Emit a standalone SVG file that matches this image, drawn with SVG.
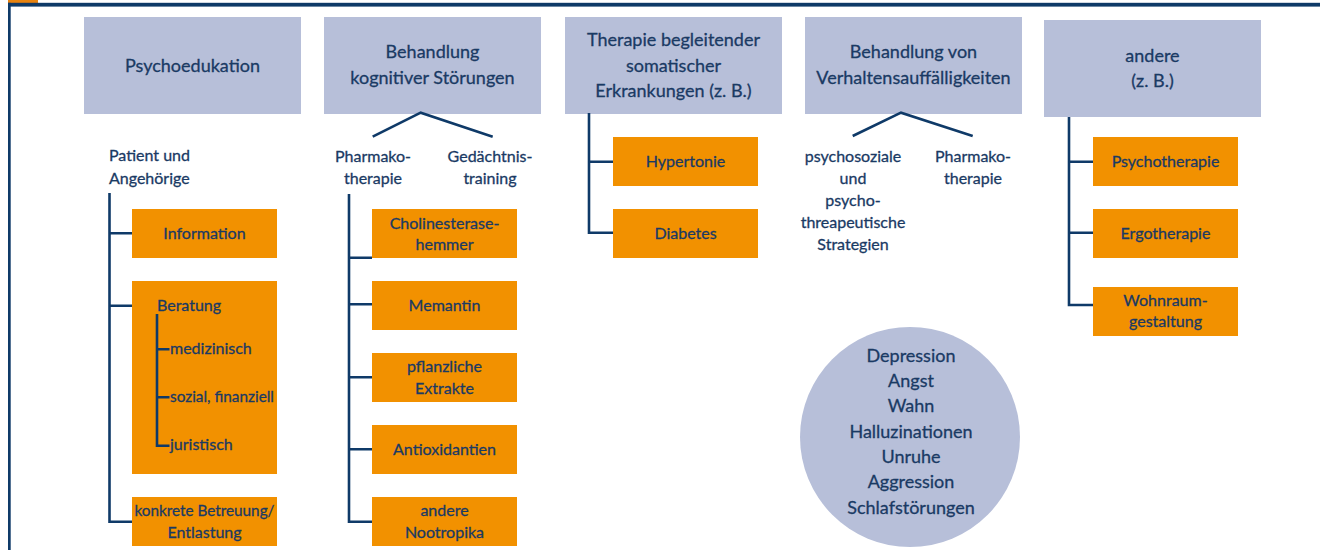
<svg xmlns="http://www.w3.org/2000/svg" width="1320" height="550" viewBox="0 0 1320 550">
<style>
.hd{fill:#b7bfd9}
.ob{fill:#f29100}
.t{font-family:Lato,"Open Sans",sans-serif;fill:#1a3a64;stroke:#1a3a64;stroke-width:0.3;text-anchor:middle}
.h{font-size:18px}
.b{font-size:16px}
.l{text-anchor:start}
.ln{stroke:#0f3a68;stroke-width:2.6;fill:none}
</style>
<rect x="0" y="0" width="1320" height="550" fill="#ffffff"/>
<g id="frame">
<rect x="8" y="0" width="30" height="3" fill="#e8830f"/>
<rect x="8" y="2.8" width="1312" height="3.8" fill="#0f3a68"/>
<rect x="8" y="2.8" width="2.7" height="548" fill="#0f3a68"/>
</g>
<g id="h1"><rect class="hd" x="84" y="17" width="217" height="97"/><text class="t h" x="192.5" y="72">Psychoedukation</text></g>
<g id="h2"><rect class="hd" x="324" y="17" width="217" height="97"/><text class="t h" x="432.5" y="58">Behandlung</text><text class="t h" x="432.5" y="84">kognitiver Störungen</text></g>
<g id="h3"><rect class="hd" x="565" y="17" width="217" height="97"/><text class="t h" x="673.5" y="46">Therapie begleitender</text><text class="t h" x="673.5" y="72">somatischer</text><text class="t h" x="673.5" y="97">Erkrankungen (z. B.)</text></g>
<g id="h4"><rect class="hd" x="805" y="17" width="217" height="97"/><text class="t h" x="913.5" y="58">Behandlung von</text><text class="t h" x="913.5" y="84">Verhaltensauffälligkeiten</text></g>
<g id="h5"><rect class="hd" x="1044" y="20" width="217" height="97"/><text class="t h" x="1152.5" y="62">andere</text><text class="t h" x="1152.5" y="87">(z. B.)</text></g>
<g id="patient"><text class="t b l" x="109" y="161">Patient und</text><text class="t b l" x="109" y="184">Angehörige</text></g>
<g id="information"><rect class="ob" x="132" y="209" width="145" height="49"/><text class="t b" x="204.5" y="239">Information</text></g>
<g id="beratung"><rect class="ob" x="132" y="281" width="145" height="193"/><text class="t b l" x="157" y="311">Beratung</text></g>
<g id="medizinisch"><text class="t b l" x="170" y="354">medizinisch</text></g>
<g id="sozial"><text class="t b l" x="170" y="402" textLength="104" lengthAdjust="spacingAndGlyphs">sozial, finanziell</text></g>
<g id="juristisch"><text class="t b l" x="170" y="450">juristisch</text></g>
<g id="konkrete"><rect class="ob" x="132" y="497" width="145" height="49"/><text class="t b" x="204.5" y="516" textLength="140" lengthAdjust="spacingAndGlyphs">konkrete Betreuung/</text><text class="t b" x="204.5" y="538">Entlastung</text></g>
<g id="pharmako1"><text class="t b" x="373" y="162">Pharmako-</text><text class="t b" x="373" y="184">therapie</text></g>
<g id="gedaechtnis"><text class="t b" x="490" y="162">Gedächtnis-</text><text class="t b" x="490" y="184">training</text></g>
<g id="cholin"><rect class="ob" x="372" y="209" width="145" height="49"/><text class="t b" x="444.5" y="229">Cholinesterase-</text><text class="t b" x="444.5" y="250">hemmer</text></g>
<g id="memantin"><rect class="ob" x="372" y="281" width="145" height="49"/><text class="t b" x="444.5" y="311">Memantin</text></g>
<g id="pflanz"><rect class="ob" x="372" y="353" width="145" height="49"/><text class="t b" x="444.5" y="372">pflanzliche</text><text class="t b" x="444.5" y="394">Extrakte</text></g>
<g id="antiox"><rect class="ob" x="372" y="425" width="145" height="49"/><text class="t b" x="444.5" y="455">Antioxidantien</text></g>
<g id="nootrop"><rect class="ob" x="372" y="497" width="145" height="49"/><text class="t b" x="444.5" y="516">andere</text><text class="t b" x="444.5" y="538">Nootropika</text></g>
<g id="hypertonie"><rect class="ob" x="613" y="137" width="145" height="49"/><text class="t b" x="685.5" y="167">Hypertonie</text></g>
<g id="diabetes"><rect class="ob" x="613" y="209" width="145" height="49"/><text class="t b" x="685.5" y="239">Diabetes</text></g>
<g id="psychosozial"><text class="t b" x="853" y="162">psychosoziale</text><text class="t b" x="853" y="184">und</text><text class="t b" x="853" y="206">psycho-</text><text class="t b" x="853" y="228">threapeutische</text><text class="t b" x="853" y="250">Strategien</text></g>
<g id="pharmako2"><text class="t b" x="973" y="162">Pharmako-</text><text class="t b" x="973" y="184">therapie</text></g>
<g id="psychotherapie"><rect class="ob" x="1093" y="137" width="145" height="49"/><text class="t b" x="1165.5" y="167">Psychotherapie</text></g>
<g id="ergo"><rect class="ob" x="1093" y="209" width="145" height="49"/><text class="t b" x="1165.5" y="239">Ergotherapie</text></g>
<g id="wohnraum"><rect class="ob" x="1093" y="287" width="145" height="49"/><text class="t b" x="1165.5" y="306">Wohnraum-</text><text class="t b" x="1165.5" y="327">gestaltung</text></g>
<g id="symptome"><circle class="hd" cx="910" cy="437" r="110"/>
<text class="t h" x="911" y="362">Depression</text><text class="t h" x="911" y="387">Angst</text><text class="t h" x="911" y="412">Wahn</text><text class="t h" x="911" y="438">Halluzinationen</text><text class="t h" x="911" y="463">Unruhe</text><text class="t h" x="911" y="488">Aggression</text><text class="t h" x="911" y="514">Schlafstörungen</text></g>
<g id="connectors">
<path class="ln" d="M109.5,193 V521.7 H132 M109.5,233.3 H132 M109.5,305.7 H132"/>
<path class="ln" d="M157,314 V445.7 H169.5 M157,349.3 H169.5 M157,397.3 H169.5"/>
<path class="ln" d="M372.7,136.7 L420.7,112.7 L492.7,136.7"/>
<path class="ln" d="M349,194 V521.7 H372 M349,257.7 H372 M349,304.3 H372 M349,377.3 H372 M349,449.3 H372"/>
<path class="ln" d="M589,113 V232.7 H613 M589,161.7 H613"/>
<path class="ln" d="M852.7,136 L901,112.7 L972.7,136"/>
<path class="ln" d="M1069,117 V305 H1093 M1069,161.7 H1093 M1069,232.7 H1093"/>
</g>
</svg>
